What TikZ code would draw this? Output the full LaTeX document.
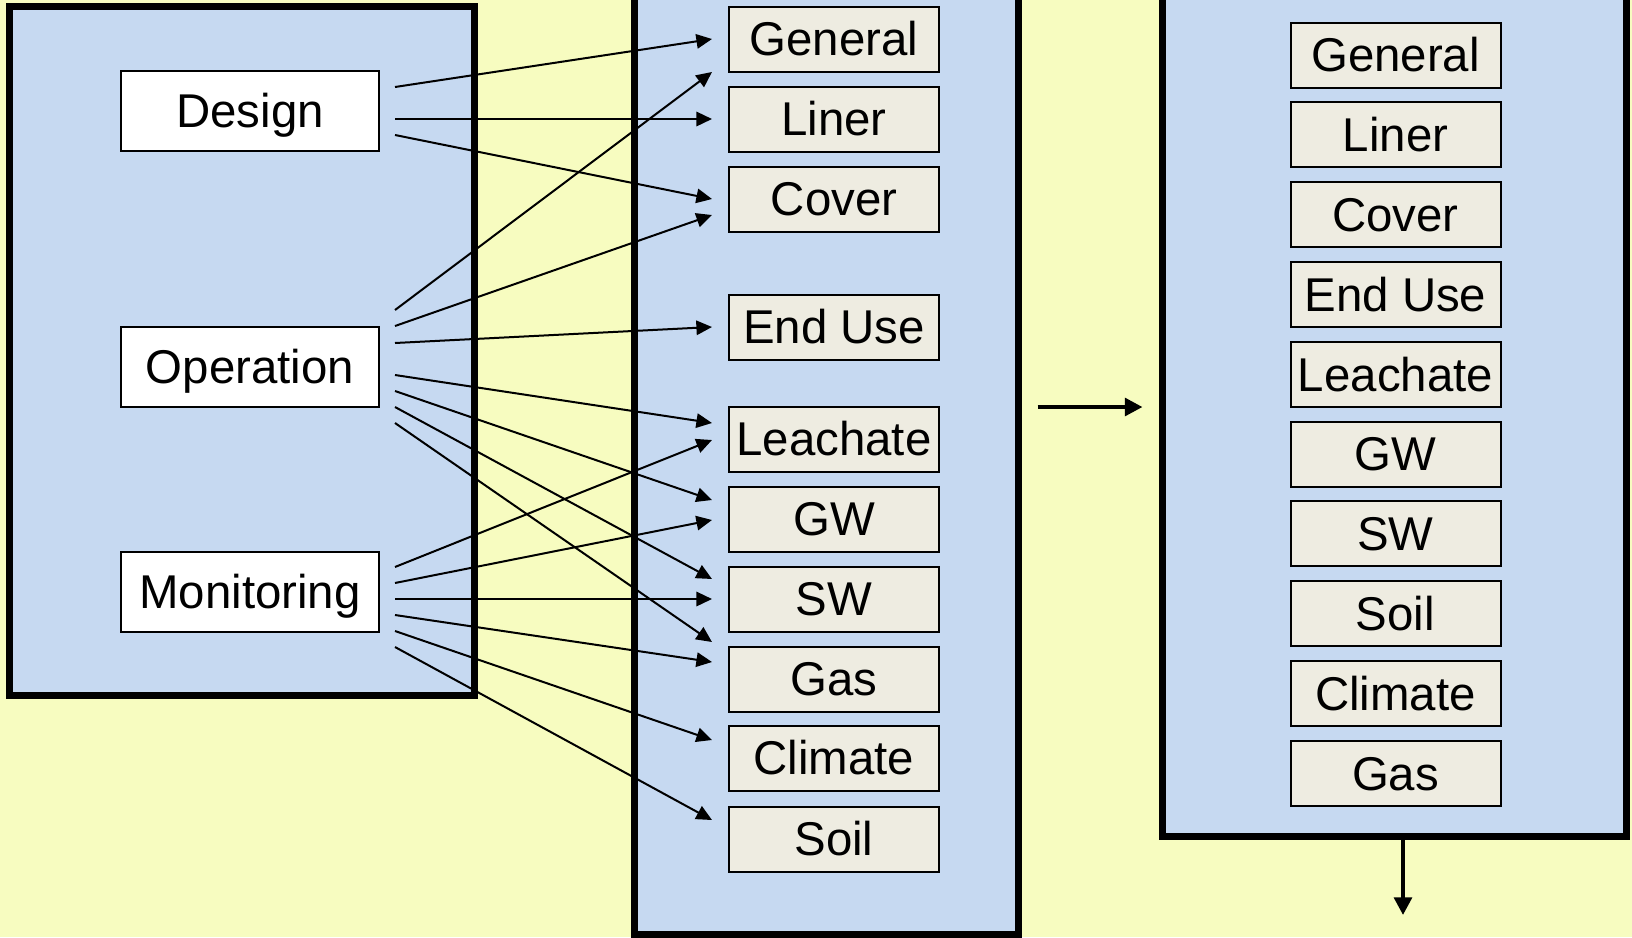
\documentclass[tikz,border=0pt]{standalone}
\usepackage{fontspec}
\setmainfont{Liberation Sans}
\usetikzlibrary{arrows.meta,calc}
\definecolor{bgyellow}{HTML}{F7FCC0}
\definecolor{panelblue}{HTML}{C6D9F1}
\definecolor{itemfill}{HTML}{EEECE1}
% connector from a source box to a target box, offsets in drawing units
\newcommand\arrowlink[4]{\draw[conn] ($(#1.east)+(15,#2)$) -- ($(#3.west)+(-16,#4)$);}
\begin{document}
\begin{tikzpicture}[x=0.5bp,y=-0.5bp,
  lbl/.style={font=\fontsize{23.7bp}{28bp}\selectfont,text height=16.95bp,text depth=0pt,inner sep=0pt},
  panel/.style={draw=black,line width=3.5bp,fill=panelblue,rectangle,inner sep=0pt},
  srcbox/.style={lbl,draw=black,line width=1bp,fill=white,minimum width=129bp,minimum height=40bp},
  itembox/.style={lbl,draw=black,line width=1bp,fill=itemfill,minimum width=105bp,minimum height=32.5bp},
  conn/.style={line width=1bp,-{Triangle[length=7.8bp,width=7.2bp]}},
  bigarrow/.style={line width=2bp,-{Triangle[length=8.8bp,width=8.8bp]}}]
\useasboundingbox (0,0) rectangle (1632,937);
\clip (0,0) rectangle (1632,937);
\fill[bgyellow] (0,0) rectangle (1632,937);

% three panels
\node[panel,minimum width=232.25bp,minimum height=344bp] (left) at (241.75,351) {};
\node[panel,minimum width=192bp,minimum height=477bp] (mid) at (826,457) {};
\node[panel,minimum width=232bp,minimum height=428bp] (right) at (1394,408) {};

% sources
\node[srcbox] (design) at (250,111) {Design};
\node[srcbox] (operation) at (250,367) {Operation};
\node[srcbox] (monitoring) at (250,592) {Monitoring};

% middle column of categories
\node[itembox] (mGeneral) at (834,39) {General};
\node[itembox] (mLiner) at (834,119) {Liner};
\node[itembox] (mCover) at (834,199) {Cover};
\node[itembox] (mEndUse) at (834,327) {End Use};
\node[itembox] (mLeachate) at (834,439) {Leachate};
\node[itembox] (mGW) at (834,519) {GW};
\node[itembox] (mSW) at (834,599) {SW};
\node[itembox] (mGas) at (834,679) {Gas};
\node[itembox] (mClimate) at (834,758) {Climate};
\node[itembox] (mSoil) at (834,839) {Soil};

% right column of categories
\foreach \lab [count=\i from 0] in {General,Liner,Cover,End Use,Leachate,GW,SW,Soil,Climate,Gas}
  \node[itembox] (r\i) at (1395.5,55+79.8*\i) {\lab};

% design links
\arrowlink{design}{-24}{mGeneral}{0}
\arrowlink{design}{8}{mLiner}{0}
\arrowlink{design}{24}{mCover}{0}

% operation links
\arrowlink{operation}{-57}{mGeneral}{33}
\arrowlink{operation}{-41}{mCover}{16}
\arrowlink{operation}{-24}{mEndUse}{0}
\arrowlink{operation}{8}{mLeachate}{-16}
\arrowlink{operation}{24}{mGW}{-19}
\arrowlink{operation}{40}{mSW}{-20}
\arrowlink{operation}{56}{mGas}{-37}

% monitoring links
\arrowlink{monitoring}{-25}{mLeachate}{1}
\arrowlink{monitoring}{-9}{mGW}{1}
\arrowlink{monitoring}{7}{mSW}{0}
\arrowlink{monitoring}{23}{mGas}{-17}
\arrowlink{monitoring}{39}{mClimate}{-18}
\arrowlink{monitoring}{55}{mSoil}{-19}

% flow between panels
\draw[bigarrow] ($(mid.east)+(16,-50)$) -- ($(right.west)+(-16,-1)$);
\coordinate (exit) at (1403,915);
\draw[bigarrow] (right.south -| exit) -- (exit);
\end{tikzpicture}
\end{document}
